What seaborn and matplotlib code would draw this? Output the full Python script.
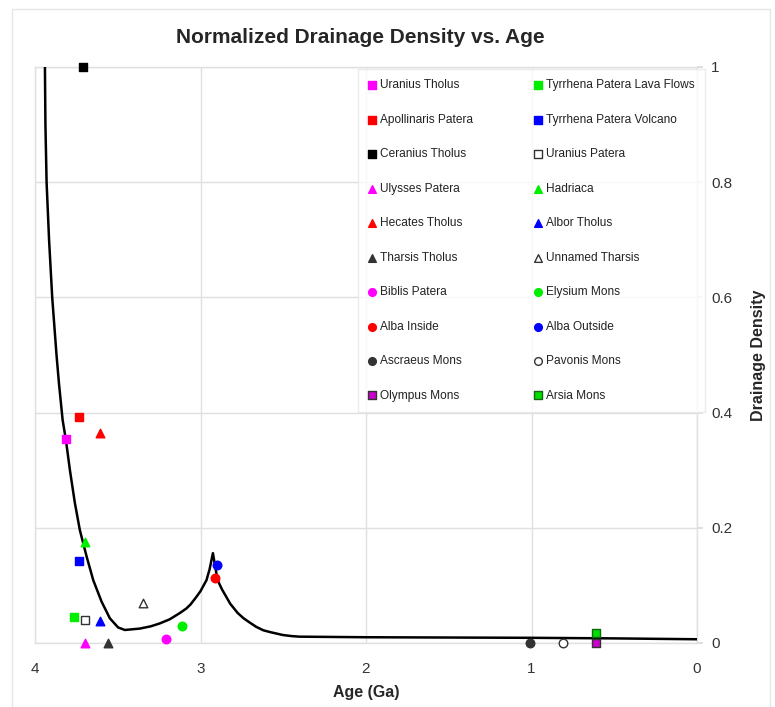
import numpy as np
import pandas as pd
import seaborn as sns
import matplotlib.pyplot as plt
from matplotlib.patches import Rectangle

# volcano observations
names = ["Uranius Tholus", "Apollinaris Patera", "Ceranius Tholus", "Ulysses Patera",
         "Hecates Tholus", "Tharsis Tholus", "Biblis Patera", "Alba Inside",
         "Ascraeus Mons", "Olympus Mons",
         "Tyrrhena Patera Lava Flows", "Tyrrhena Patera Volcano", "Uranius Patera",
         "Hadriaca", "Albor Tholus", "Unnamed Tharsis", "Elysium Mons",
         "Alba Outside", "Pavonis Mons", "Arsia Mons"]
ages = [3.81, 3.733, 3.71, 3.70, 3.61, 3.56, 3.21, 2.915, 1.01, 0.61,
        3.765, 3.733, 3.70, 3.70, 3.61, 3.35, 3.11, 2.90, 0.81, 0.61]
density = [0.354, 0.393, 1.0, 0.0, 0.365, 0.0, 0.0075, 0.113, 0.0, 0.0,
           0.045, 0.142, 0.040, 0.175, 0.039, 0.069, 0.030, 0.135, 0.0, 0.017]
markers = ["s", "s", "s", "^", "^", "^", "o", "o", "o", "s",
           "s", "s", "s", "^", "^", "^", "o", "o", "o", "s"]
faces = ["#ff00ff", "#ff0000", "#000000", "#ff00ff", "#ff0000", "#333333",
         "#ff00ff", "#ff0000", "#333333", "#cc00cc",
         "#00ee00", "#0000ff", "white", "#00ee00", "#0000ff", "white",
         "#00ee00", "#0000ff", "white", "#00dd00"]
edges = ["#ff00ff", "#ff0000", "#000000", "#ff00ff", "#ff0000", "#333333",
         "#ff00ff", "#ff0000", "#333333", "#333333",
         "#00ee00", "#0000ff", "#333333", "#00ee00", "#0000ff", "#333333",
         "#00ee00", "#0000ff", "#333333", "#116611"]

# fitted trend line
curve_age = [3.940, 3.937, 3.930, 3.915, 3.896, 3.870, 3.855, 3.833, 3.813, 3.789,
             3.759, 3.729, 3.688, 3.648, 3.598, 3.548, 3.498, 3.457, 3.367, 3.30,
             3.246, 3.187, 3.125, 3.085, 3.06, 3.025, 3.00, 2.964, 2.945, 2.925,
             2.904, 2.89, 2.87, 2.850, 2.82, 2.775, 2.74, 2.700, 2.663, 2.62,
             2.580, 2.503, 2.45, 2.402, 2.2, 2.0, 1.5, 1.0, 0.5, 0.0]
curve_dd = [1.0, 0.90, 0.80, 0.70, 0.60, 0.50, 0.45, 0.387, 0.352, 0.300,
            0.243, 0.196, 0.150, 0.109, 0.072, 0.043, 0.027, 0.0226, 0.025, 0.029,
            0.034, 0.041, 0.052, 0.060, 0.067, 0.080, 0.090, 0.109, 0.128, 0.156,
            0.121, 0.105, 0.093, 0.083, 0.068, 0.052, 0.043, 0.035, 0.028, 0.022,
            0.019, 0.0139, 0.012, 0.011, 0.0105, 0.010, 0.0095, 0.009, 0.008, 0.0065]

x_ticks = [4, 3, 2, 1, 0]
y_ticks = [0, 0.2, 0.4, 0.6, 0.8, 1]

sns.set_theme(style="white")
plt.rcParams['font.family'] = ['Liberation Sans', 'DejaVu Sans']

fig = plt.figure(figsize=(7.75, 7.07), dpi=100)
ax = fig.add_axes([35 / 775, 1 - 643 / 707, 662 / 775, 576 / 707])

fig.patches.append(Rectangle((12 / 775, 0.0), 758 / 775, 1 - 9 / 707,
                             transform=fig.transFigure, fill=False,
                             edgecolor="#e6e6e6", linewidth=1))

curve = pd.DataFrame({"age": curve_age, "dd": curve_dd})
sns.lineplot(data=curve, x="age", y="dd", sort=False, estimator=None,
             color="black", linewidth=1.8, ax=ax, zorder=3)

df = pd.DataFrame({"name": names, "age": ages, "dd": density})
for i, row in df.iterrows():
    sns.scatterplot(x=[row["age"]], y=[row["dd"]], marker=markers[i],
                    color=faces[i], edgecolor=edges[i], linewidth=1,
                    s=38, label=row["name"], ax=ax, clip_on=False, zorder=4)

ax.set_xlim(4, 0)
ax.set_ylim(0, 1)
ax.set_xticks(x_ticks)
ax.set_xticklabels([str(t) for t in x_ticks])
ax.set_yticks(y_ticks)
ax.set_yticklabels(["0", "0.2", "0.4", "0.6", "0.8", "1"])
ax.yaxis.tick_right()
ax.yaxis.set_label_position("right")
ax.tick_params(axis="y", which="both", length=4, color="#d9d9d9",
               labelsize=11, labelcolor="#333333", pad=6, left=False, right=True)
ax.tick_params(axis="x", length=0, labelsize=11, labelcolor="#333333", pad=14)
ax.grid(True, color="#e0e0e0", linewidth=1)
for sp in ax.spines.values():
    sp.set_color("#e0e0e0")
    sp.set_linewidth(1)

ax.set_xlabel("Age (Ga)", fontsize=11.5, fontweight="bold", labelpad=6)
ax.set_ylabel("Drainage Density", fontsize=11.5, fontweight="bold", labelpad=14,
              rotation=90)
ax.set_title("Normalized Drainage Density vs. Age", fontsize=15,
             fontweight="bold", pad=17, x=0.491)

leg = ax.legend(loc="upper right", bbox_to_anchor=(1.012, 0.997), ncol=2,
                fontsize=8.6, frameon=True, fancybox=False, borderaxespad=0,
                handlelength=0.5, handletextpad=0.4, labelspacing=1.88,
                columnspacing=5.2, borderpad=0.9, markerscale=0.9)
leg.get_frame().set_edgecolor("#e6e6e6")
leg.get_frame().set_linewidth(1)
for t in leg.get_texts():
    t.set_color("#222222")

fig.savefig("out.png", dpi=100)
